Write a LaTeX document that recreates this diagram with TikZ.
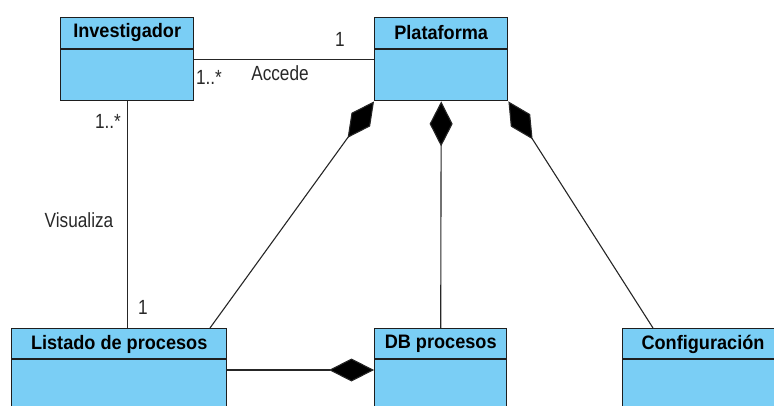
\documentclass[tikz,border=0pt]{standalone}
\usepackage{fontspec}
\setmainfont{Liberation Sans}
\newfontfamily\hdfont[FakeStretch=0.93]{Liberation Sans}
\newfontfamily\lblfont[FakeStretch=0.84]{Liberation Sans}
\usetikzlibrary{arrows.meta,calc}
\definecolor{clsfill}{RGB}{122,206,245}
\definecolor{clsline}{RGB}{30,30,30}
\definecolor{lbltext}{RGB}{40,40,40}
\tikzset{
  cls/.style={draw=clsline, fill=clsfill, line width=1.4pt, inner sep=0pt, anchor=north west},
  hdr/.style={font=\hdfont\bfseries\fontsize{19.5}{20}\selectfont, text=black, inner sep=0pt},
  lbl/.style={font=\lblfont\fontsize{20.5}{22}\selectfont, text=lbltext, inner sep=0pt},
  conn/.style={draw=black!85, line width=1.1pt},
  comp/.style={conn, {Diamond[length=45pt,width=23pt,fill=black]}-},
}
\begin{document}
\begin{tikzpicture}[x=1pt,y=-1pt]
\useasboundingbox (0,0) rectangle (774,406);
\begin{scope}
\clip (0,0) rectangle (774,406);
% classes
\node[cls, minimum width=133pt, minimum height=83pt] (inv) at (60,17) {};
\node[cls, minimum width=133pt, minimum height=83pt] (plat) at (374,17) {};
\node[cls, minimum width=215pt, minimum height=100pt] (lis) at (11,328) {};
\node[cls, minimum width=132pt, minimum height=100pt] (db) at (374,328) {};
\node[cls, minimum width=162pt, minimum height=100pt] (conf) at (622,328) {};
% header dividers
\foreach \n in {inv,plat}{
  \draw[clsline, line width=1.4pt] ($(\n.north west)+(0,32)$) -- ($(\n.north east)+(0,32)$);
}
\foreach \n in {lis,db,conf}{
  \draw[clsline, line width=1.4pt] ($(\n.north west)+(0,31)$) -- ($(\n.north east)+(0,31)$);
}
% header texts
\node[hdr] (invt) at ($(inv.north)+(0,16)$) {Investigador};
\node[hdr] (platt) at ($(plat.north)+(0,16)$) {Plataforma};
\node[hdr] (list) at ($(lis.north)+(0,16)$) {Listado de procesos};
\node[hdr] (dbt) at ($(db.north)+(0,16)$) {DB procesos};
\node[hdr] (conft) at ($(conf.north west)+(81,16)$) {Configuración};
% connector anchors
\coordinate (lisTop) at ($(lis.north west)+(199,0)$);
\coordinate (confTop) at ($(conf.north west)+(31,0)$);
\coordinate (lisRight) at ($(lis.north east)+(0,42)$);
\coordinate (dbLeft) at ($(db.north west)+(0,42)$);
\coordinate (invDown) at (inv.south);
% connectors
\draw[conn] (inv.east) -- (plat.west);
\draw[conn] (invDown) -- (invDown |- lis.north);
\draw[comp] (plat.south west) -- (lisTop);
\draw[comp] (plat.south) -- (db.north);
\draw[comp] (plat.south east) -- (confTop);
\draw[comp] (dbLeft) -- (lisRight);
\end{scope}
% labels
\node[lbl] (l1) at (340,39) {1};
\node[lbl] (l2) at (209,77) {1..*};
\node[lbl] (l3) at (280,73) {Accede};
\node[lbl] (l4) at (108,121) {1..*};
\node[lbl] (l5) at (79,220) {Visualiza};
\node[lbl] (l6) at (143,307) {1};
\end{tikzpicture}
\end{document}
